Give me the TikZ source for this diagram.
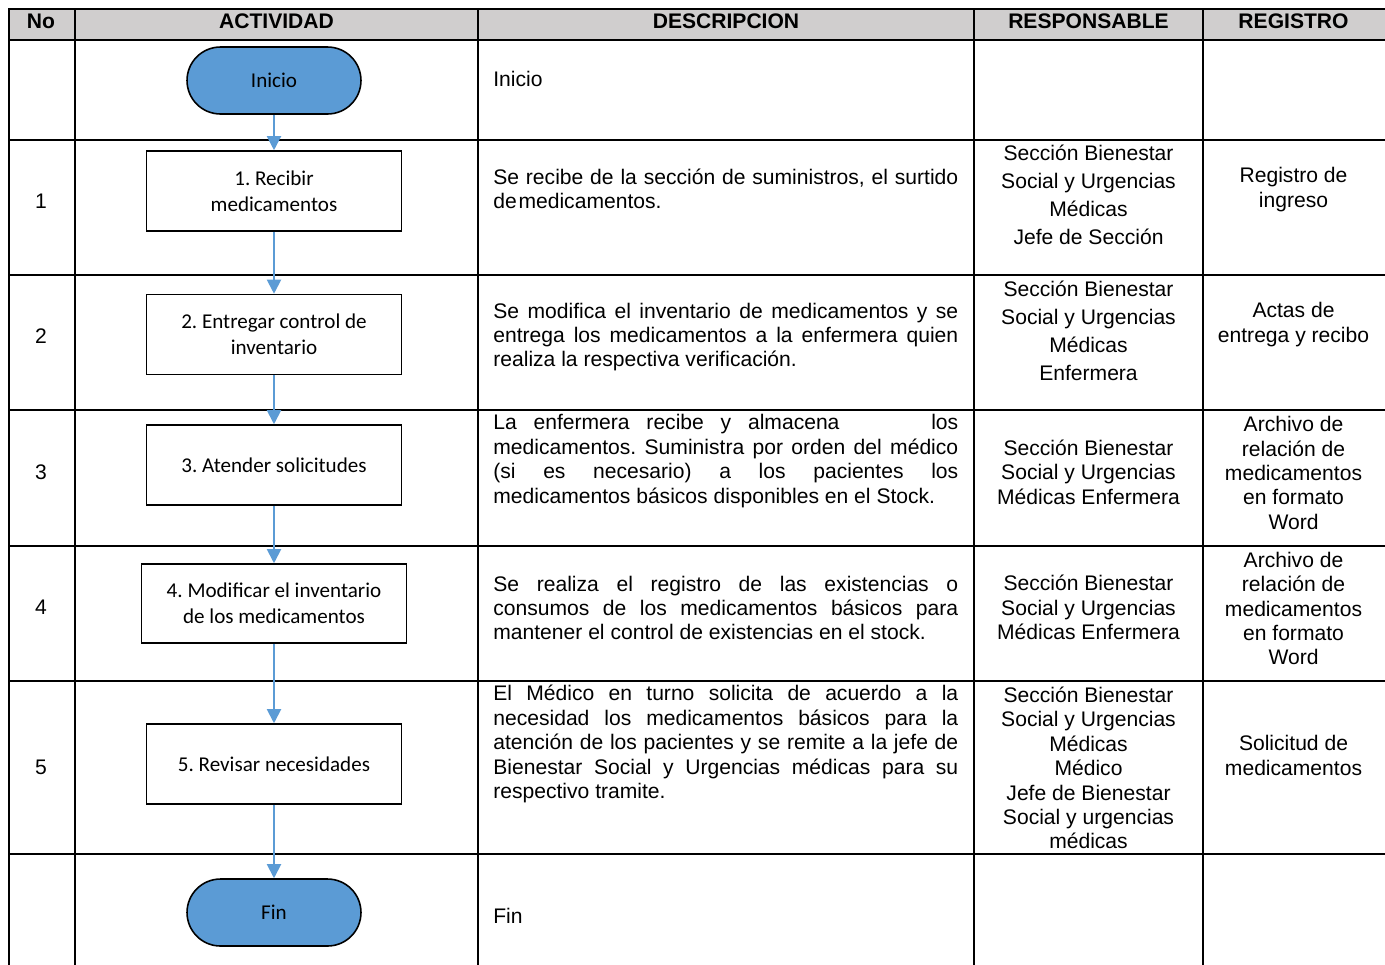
\documentclass[tikz,border=0pt]{standalone}
\usepackage{fontspec}
\setmainfont{Liberation Sans}
\newfontfamily\boxfont{Carlito}
\usetikzlibrary{arrows.meta,positioning}
\definecolor{flowblue}{RGB}{91,155,213}
\definecolor{headgray}{RGB}{208,206,206}
\frenchspacing
\tikzset{
    tabline/.style={line width=1.1pt, line cap=rect},
    terminal/.style={draw, line width=0.9pt, fill=flowblue, rounded corners=0.67cm,
        minimum width=3.48cm, minimum height=1.34cm,
        font=\boxfont\fontsize{12}{14.7}\selectfont},
    activity/.style={draw, line width=0.9pt, fill=white, align=center,
        minimum width=5.1cm, minimum height=1.6cm,
        font=\boxfont\fontsize{12}{14.7}\selectfont},
    flow/.style={flowblue, line width=1.1pt, -{Triangle[length=8pt,width=8pt]}},
    head/.style={inner sep=0pt, font=\bfseries\fontsize{12}{14}\selectfont},
    desc/.style={anchor=west, inner sep=0pt, text width=9.3cm, align=justify,
        font=\fontsize{12}{13.9}\selectfont},
    cell/.style={inner sep=0pt, align=center, font=\fontsize{12}{13.9}\selectfont},
    cellwide/.style={cell, font=\fontsize{12}{15.9}\selectfont}
}
\begin{document}
\begin{tikzpicture}[x=0.02cm, y=-0.02cm]
\useasboundingbox (0,0) rectangle (1385,964);

\fill[headgray] (9,9) rectangle (1386,40);
\foreach \y in {9,40,140,275,410,546,681,854}
    \draw[tabline] (9,\y) -- (1386,\y);
\foreach \x in {9,75,478,974,1203}
    \draw[tabline] (\x,9) -- (\x,975);

\node[head] (h1) at (41,21) {No};
\node[head] (h2) at (276.5,21) {ACTIVIDAD};
\node[head] (h3) at (726,21) {DESCRIPCION};
\node[head] (h4) at (1088.5,21) {RESPONSABLE};
\node[head] (h5) at (1293.5,21) {REGISTRO};

\node[cell] (n1) at (41,201) {1};
\node[cell] (n2) at (41,336) {2};
\node[cell] (n3) at (41,472) {3};
\node[cell] (n4) at (41,607) {4};
\node[cell] (n5) at (41,767) {5};

\node[terminal] (ini) at (274,80.5) {Inicio};
\node[activity] (a1) at (274,191) {1. Recibir\\medicamentos};
\node[activity] (a2) at (274,334.5) {2. Entregar control de\\inventario};
\node[activity] (a3) at (274,465) {3. Atender solicitudes};
\node[activity, minimum width=5.3cm, minimum height=1.58cm] (a4) at (274,603.5) {4. Modificar el inventario\\de los medicamentos};
\node[activity] (a5) at (274,764) {5. Revisar necesidades};
\node[terminal] (fin) at (274,912.5) {Fin};

\draw[flow] (ini) -- (a1);
\draw[flow] (a1) -- (a2);
\draw[flow] (a2) -- (a3);
\draw[flow] (a3) -- (a4);
\draw[flow] (a4) -- (a5);
\draw[flow] (a5) -- (fin);

\node[desc] (d0) at (493,79) {Inicio};
\node[desc] (d1) at (493,189) {Se recibe de la sección de suministros, el surtido\linebreak de\hspace{1pt}medicamentos.};
\node[desc] (d2) at (493,337) {Se modifica el inventario de medicamentos y se\linebreak entrega los medicamentos a la enfermera quien\linebreak realiza la respectiva verificación.};
\node[desc] (d3) at (493,461) {La enfermera recibe y almacena\hspace{1.5cm} los\linebreak medicamentos. Suministra por orden del médico\linebreak (si es necesario) a los pacientes los\linebreak medicamentos básicos disponibles en el Stock.};
\node[desc] (d4) at (493,608) {Se realiza el registro de las existencias o\linebreak consumos de los medicamentos básicos para\linebreak mantener el control de existencias en el stock.};
\node[desc] (d5) at (493,744) {El Médico en turno solicita de acuerdo a la\linebreak necesidad los medicamentos básicos para la\linebreak atención de los pacientes y se remite a la jefe de\linebreak Bienestar Social y Urgencias médicas para su\linebreak respectivo tramite.};
\node[desc] (d6) at (493,916) {Fin};

\node[cellwide] (r1) at (1088.5,195) {Sección Bienestar\\Social y Urgencias\\Médicas\\Jefe de Sección};
\node[cellwide] (r2) at (1088.5,331) {Sección Bienestar\\Social y Urgencias\\Médicas\\Enfermera};
\node[cell] (r3) at (1088.5,472) {Sección Bienestar\\Social y Urgencias\\Médicas Enfermera};
\node[cell] (r4) at (1088.5,607.5) {Sección Bienestar\\Social y Urgencias\\Médicas Enfermera};
\node[cell] (r5) at (1088.5,768) {Sección Bienestar\\Social y Urgencias\\Médicas\\Médico\\Jefe de Bienestar\\Social y urgencias\\médicas};

\node[cell] (g1) at (1293.5,189.5) {Registro de\\ingreso};
\node[cell] (g2) at (1293.5,324.5) {Actas de\\entrega y recibo};
\node[cell] (g3) at (1293.5,473) {Archivo de\\relación de\\medicamentos\\en formato\\Word};
\node[cell] (g4) at (1293.5,608.5) {Archivo de\\relación de\\medicamentos\\en formato\\Word};
\node[cell] (g5) at (1293.5,755.5) {Solicitud de\\medicamentos};
\end{tikzpicture}
\end{document}
